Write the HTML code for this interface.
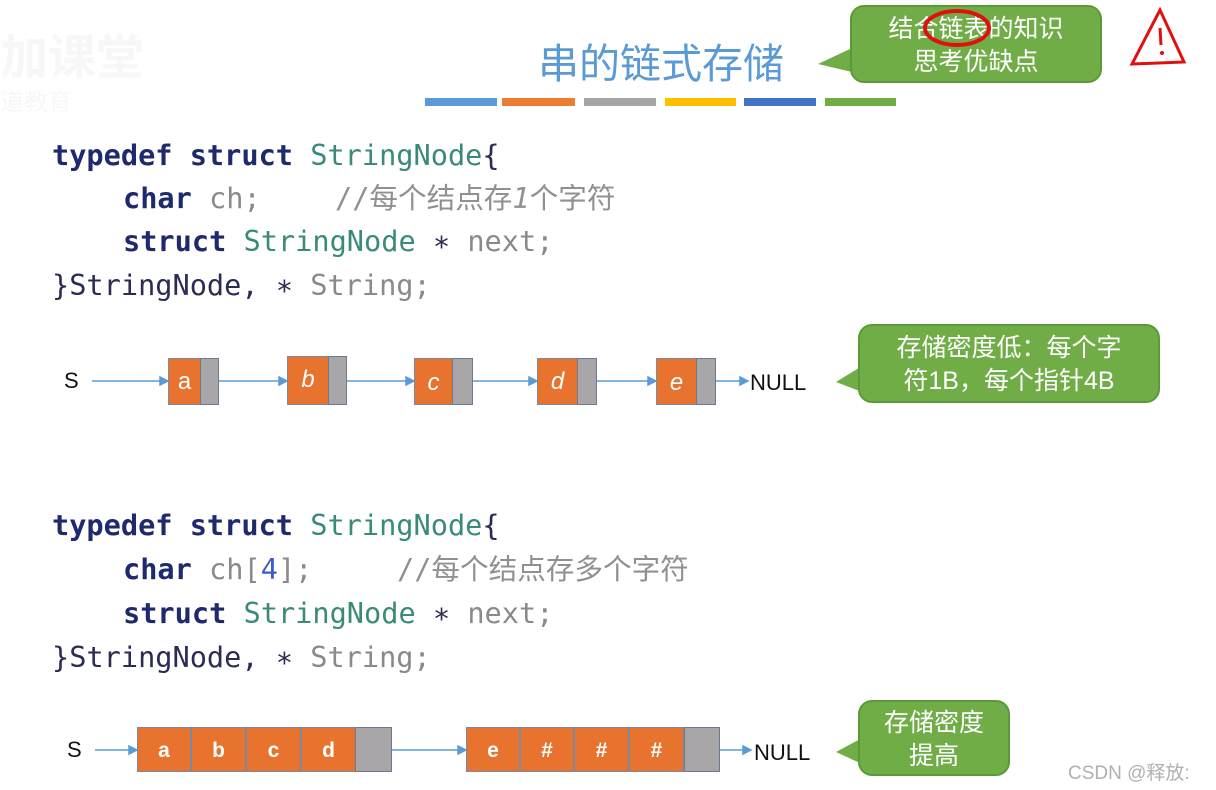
<!DOCTYPE html>
<html><head><meta charset="utf-8"><style>
body{margin:0;width:1216px;height:790px;background:#fff;position:relative;overflow:hidden;font-family:"Liberation Sans","Noto Sans CJK SC",sans-serif}
.a{position:absolute;white-space:pre}
.code{font-family:"DejaVu Sans Mono","Noto Sans CJK SC",monospace;font-size:28.6px;line-height:34px}
.k{color:#1f2a6e;font-weight:bold}.t{color:#3a8a7a}.g{color:#8a8a8a}.d{color:#2b2b55}.cm{color:#909090}
.o{position:absolute;background:#e8732f;border:1px solid #7a8aa0;box-sizing:border-box;color:#fff;text-align:center;font-size:24px}
.p{position:absolute;background:#a8a6a8;border:1px solid #6b7a90;box-sizing:border-box}
.lbl{position:absolute;font-size:22px;color:#111}
.bub{position:absolute;background:#70ad47;border:2px solid #5a9a38;border-radius:14px;color:#fff;font-size:25px;text-align:center;line-height:33px;box-sizing:border-box}
</style></head><body>
<div class="a" style="left:0;top:18px;font-size:48px;color:#f7f7f7;font-weight:bold">加课堂</div>
<div class="a" style="left:0;top:82px;font-size:24px;color:#f7f7f7">道教育</div>
<div class="a" style="left:538px;top:30px;font-size:41px;color:#5b9bd5">串的链式存储</div>
<div style="position:absolute;top:98px;left:425px;width:72px;height:8px;background:#5b9bd5"></div>
<div style="position:absolute;top:98px;left:502px;width:73px;height:8px;background:#ed7d31"></div>
<div style="position:absolute;top:98px;left:584px;width:72px;height:8px;background:#a5a5a5"></div>
<div style="position:absolute;top:98px;left:665px;width:71px;height:8px;background:#ffc000"></div>
<div style="position:absolute;top:98px;left:744px;width:72px;height:8px;background:#4472c4"></div>
<div style="position:absolute;top:98px;left:825px;width:71px;height:8px;background:#70ad47"></div>

<svg style="position:absolute;left:0;top:0" width="1216" height="790">
<polygon points="852,48 818,64 852,72" fill="#70ad47"/>
<polygon points="862,366 836,382 862,392" fill="#70ad47"/>
<polygon points="862,738 836,752 862,764" fill="#70ad47"/>
<g stroke="#5b9bd5" stroke-width="1.5" fill="#5b9bd5">
<line x1="92" y1="381" x2="162" y2="381"/><polygon points="168,381 160,377 160,385"/>
<line x1="218" y1="381" x2="281" y2="381"/><polygon points="287,381 279,377 279,385"/>
<line x1="346" y1="381" x2="408" y2="381"/><polygon points="414,381 406,377 406,385"/>
<line x1="472" y1="381" x2="531" y2="381"/><polygon points="537,381 529,377 529,385"/>
<line x1="596" y1="381" x2="650" y2="381"/><polygon points="656,381 648,377 648,385"/>
<line x1="715" y1="381" x2="742" y2="381"/><polygon points="748,381 740,377 740,385"/>
<line x1="95" y1="750" x2="131" y2="750"/><polygon points="137,750 129,746 129,754"/>
<line x1="392" y1="750" x2="460" y2="750"/><polygon points="466,750 458,746 458,754"/>
<line x1="720" y1="750" x2="745" y2="750"/><polygon points="751,750 743,746 743,754"/>
</g></svg>

<div class="bub" style="left:850px;top:5px;width:252px;height:78px;padding-top:6px">结合链表的知识<br>思考优缺点</div>
<div class="bub" style="left:858px;top:324px;width:302px;height:79px;padding-top:6px">存储密度低：每个字<br>符1B，每个指针4B</div>
<div class="bub" style="left:858px;top:700px;width:152px;height:76px;padding-top:5px">存储密度<br>提高</div>

<svg style="position:absolute;left:0;top:0" width="1216" height="120">
<ellipse cx="957" cy="28" rx="32" ry="17" fill="none" stroke="#e01010" stroke-width="4"/>
<path d="M1160 10 L1132 64 L1184 62 Z" fill="none" stroke="#e01010" stroke-width="3"/>
<line x1="1160" y1="28" x2="1161" y2="45" stroke="#e01010" stroke-width="3"/>
<circle cx="1162" cy="53" r="2" fill="#e01010"/>
</svg>

<div class="a code" style="left:52px;top:138px"><span class="k">typedef struct</span> <span class="t">StringNode</span><span class="d">{</span></div>
<div class="a code" style="left:123px;top:181px"><span class="k">char</span> <span class="g">ch;</span></div>
<div class="a code cm" style="left:335px;top:181px">//每个结点存<i>1</i>个字符</div>
<div class="a code" style="left:123px;top:224px"><span class="k">struct</span> <span class="t">StringNode</span> <span class="d">∗</span> <span class="g">next;</span></div>
<div class="a code" style="left:52px;top:268px"><span class="d">}StringNode, ∗</span> <span class="g">String;</span></div>

<div class="a code" style="left:52px;top:508px"><span class="k">typedef struct</span> <span class="t">StringNode</span><span class="d">{</span></div>
<div class="a code" style="left:123px;top:552px"><span class="k">char</span> <span class="g">ch[</span><span style="color:#3b5bd0">4</span><span class="g">];</span></div>
<div class="a code cm" style="left:397px;top:552px">//每个结点存多个字符</div>
<div class="a code" style="left:123px;top:596px"><span class="k">struct</span> <span class="t">StringNode</span> <span class="d">∗</span> <span class="g">next;</span></div>
<div class="a code" style="left:52px;top:640px"><span class="d">}StringNode, ∗</span> <span class="g">String;</span></div>

<div class="lbl" style="left:64px;top:368px">S</div>
<div class="o" style="left:168px;top:358px;width:33px;height:47px;line-height:45px">a</div><div class="p" style="left:200px;top:358px;width:19px;height:47px"></div>
<div class="o" style="left:287px;top:356px;width:42px;height:49px;line-height:45px;font-style:italic">b</div><div class="p" style="left:328px;top:356px;width:19px;height:49px"></div>
<div class="o" style="left:414px;top:358px;width:39px;height:47px;line-height:47px;font-style:italic">c</div><div class="p" style="left:452px;top:358px;width:21px;height:47px"></div>
<div class="o" style="left:537px;top:358px;width:41px;height:47px;line-height:45px;font-style:italic">d</div><div class="p" style="left:577px;top:358px;width:20px;height:47px"></div>
<div class="o" style="left:656px;top:358px;width:41px;height:47px;line-height:47px;font-style:italic">e</div><div class="p" style="left:696px;top:358px;width:20px;height:47px"></div>
<div class="lbl" style="left:750px;top:370px">NULL</div>

<div class="lbl" style="left:67px;top:737px">S</div>
<div class="o" style="left:137px;top:727px;width:54px;height:45px;line-height:45px;font-size:21px;font-weight:bold">a</div>
<div class="o" style="left:191px;top:727px;width:55px;height:45px;line-height:45px;font-size:21px;font-weight:bold">b</div>
<div class="o" style="left:246px;top:727px;width:55px;height:45px;line-height:45px;font-size:21px;font-weight:bold">c</div>
<div class="o" style="left:301px;top:727px;width:55px;height:45px;line-height:45px;font-size:21px;font-weight:bold">d</div>
<div class="p" style="left:355px;top:727px;width:37px;height:45px"></div>
<div class="o" style="left:466px;top:727px;width:54px;height:45px;line-height:45px;font-size:21px;font-weight:bold">e</div>
<div class="o" style="left:520px;top:727px;width:54px;height:45px;line-height:45px;font-size:21px;font-weight:bold">#</div>
<div class="o" style="left:574px;top:727px;width:55px;height:45px;line-height:45px;font-size:21px;font-weight:bold">#</div>
<div class="o" style="left:629px;top:727px;width:55px;height:45px;line-height:45px;font-size:21px;font-weight:bold">#</div>
<div class="p" style="left:684px;top:727px;width:36px;height:45px"></div>
<div class="lbl" style="left:754px;top:740px">NULL</div>
<div class="a" style="left:1068px;top:758px;font-size:19px;color:#b0b0b0">CSDN @释放:</div>
</body></html>
